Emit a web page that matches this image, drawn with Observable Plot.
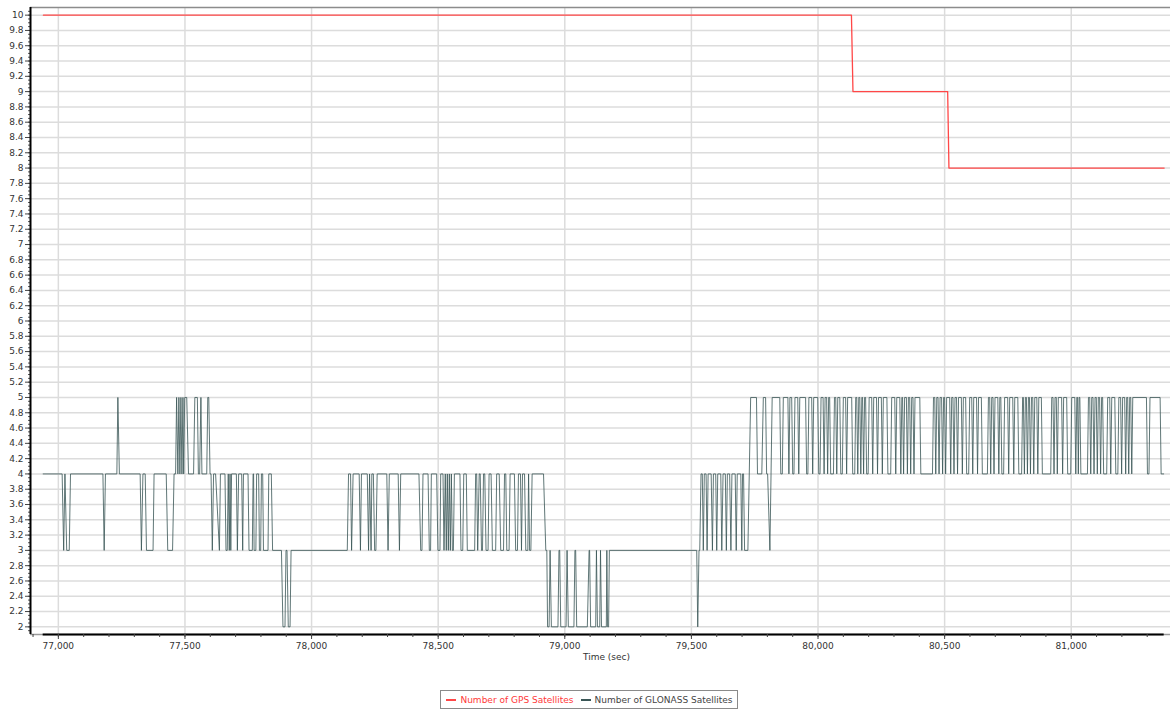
<!DOCTYPE html>
<html><head><meta charset="utf-8">
<script src="https://cdn.jsdelivr.net/npm/d3@7"></script>
<script src="https://cdn.jsdelivr.net/npm/@observablehq/plot@0.6"></script>
<style>
body{margin:0;background:#fff;font-family:"DejaVu Sans",sans-serif;}
#chart svg{display:block}
#legendWrap{display:flex;justify-content:center;margin-top:20px;position:relative;left:3px}
#legend{border:1px solid #8a8a8a;display:flex;align-items:center;height:17px;padding:0 4px 0 5px;font:9px "DejaVu Sans",sans-serif;white-space:nowrap}
.sw{display:inline-block;width:10px;height:2px;margin-right:4px}
</style></head><body>
<div id="chart"></div>
<div id="legendWrap"><div id="legend"></div></div>
<script>
// ---- data ----
const seriesNames = ["Number of GPS Satellites", "Number of GLONASS Satellites"];
const seriesColors = ["#ff4747", "#3a5757"];
const xTicks = [77000, 77500, 78000, 78500, 79000, 79500, 80000, 80500, 81000];
const yTicks = [2, 2.2, 2.4, 2.6, 2.8, 3, 3.2, 3.4, 3.6, 3.8, 4, 4.2, 4.4, 4.6, 4.8, 5, 5.2, 5.4, 5.6, 5.8, 6, 6.2, 6.4, 6.6, 6.8, 7, 7.2, 7.4, 7.6, 7.8, 8, 8.2, 8.4, 8.6, 8.8, 9, 9.2, 9.4, 9.6, 9.8, 10];
const gpsTime = [76941, 80132, 80138, 80512, 80517, 81367];
const gpsSats = [10, 10, 9, 9, 8, 8];
const glonassSeries = [
[76940,4],[77015,4],[77021,3],[77026,4],[77033,3],[77043,3],[77048,4],
[77176,4],[77181,3],[77186,4],
[77231,4],[77235,5],[77241,4],
[77323,4],[77328,3],[77334,4],[77343,4],[77348,3],[77374,3],[77378,4],
[77426,4],[77432,3],[77451,3],[77457,4],
[77463,4],[77467,5],[77472,4],[77476,5],[77480,4],[77484,5],[77488,4],[77492,5],[77495,4],[77499,5],[77507,5],[77514,4],[77534,4],[77539,5],[77549,5],[77553,4],[77558,4],[77563,5],[77567,4],[77586,4],[77590,5],[77594,5],[77599,4],
[77603,4],[77608,3],[77613,4],[77621,4],[77636,3],[77640,4],[77658,4],[77662,3],[77667,3],[77671,4],[77675,3],[77678,4],[77681,3],[77684,4],[77703,4],[77707,3],[77712,4],[77724,4],[77728,3],[77731,4],[77749,4],[77753,3],[77766,3],[77769,4],[77771,4],[77773,3],[77780,3],[77783,4],[77791,4],[77794,3],[77799,3],[77802,4],[77807,4],[77810,3],[77828,3],[77831,4],[77841,4],[77846,3],
[77881,3],[77887,2],[77895,2],[77899,3],[77903,3],[77908,2],[77915,2],[77919,3],
[78141,3],[78146,4],[78154,4],[78158,3],[78164,4],[78188,4],[78193,3],[78197,4],[78220,4],[78225,3],[78229,4],[78235,3],[78238,4],[78244,4],[78249,3],[78254,3],[78259,4],[78297,4],[78302,3],[78307,4],[78342,4],[78347,3],[78352,4],
[78424,4],[78431,3],[78436,3],[78440,4],[78460,4],[78465,3],[78470,3],[78473,4],[78494,4],[78499,3],[78507,3],[78510,4],[78519,4],[78523,3],[78528,4],[78532,3],[78536,4],[78540,3],[78544,4],[78548,3],[78552,4],[78556,3],[78560,3],[78564,4],
[78586,4],[78590,3],[78597,3],[78601,4],[78611,4],[78615,3],[78644,3],[78648,4],[78652,4],[78656,3],[78662,4],[78666,4],[78671,3],[78675,3],[78679,4],[78684,4],[78689,3],[78697,3],[78701,4],[78709,4],[78714,3],[78727,3],[78731,4],[78741,4],[78747,3],[78758,3],[78762,4],[78767,4],[78771,3],[78780,3],[78784,4],[78801,4],[78806,3],[78813,3],[78817,4],[78825,4],[78829,3],[78833,4],[78841,4],[78846,3],[78854,3],[78857,4],[78861,3],[78866,3],[78871,4],
[78916,4],[78925,3],[78929,3],[78932,2],[78938,2],[78942,3],[78947,2],[78973,2],[78977,3],[78980,3],[78984,2],[79005,2],[79009,3],[79014,2],[79036,2],[79040,3],[79043,3],[79047,2],[79089,2],[79096,3],[79098,3],[79102,2],[79122,2],[79125,3],[79129,2],[79138,2],[79141,3],[79145,2],[79164,2],[79166,3],[79169,2],[79173,2],[79176,3],
[79521,3],[79525,2],[79530,3],
[79533,3],[79538,4],[79543,4],[79547,3],[79551,4],[79558,4],[79562,3],[79566,4],[79578,4],[79583,3],[79587,4],[79596,4],[79600,3],[79604,4],[79616,4],[79620,3],[79625,4],[79634,4],[79638,3],[79642,4],[79651,4],[79656,3],[79660,4],[79673,4],[79677,3],[79681,4],[79695,4],[79699,3],[79702,4],[79706,4],[79710,3],[79723,3],[79734,5],
[79757,5],[79761,4],[79778,4],[79784,5],[79793,5],[79797,4],[79801,4],[79810,3],[79819,5],
[79849,5],[79853,4],[79859,4],[79863,5],
[79881,5],[79885,4],[79889,5],
[79896,5],[79900,4],[79905,4],[79909,5],
[79920,5],[79924,4],[79928,5],
[79951,5],[79955,4],[79960,4],[79964,5],
[79975,5],[79979,4],[79983,5],
[79999,5],[80003,4],[80008,4],[80012,5],
[80020,5],[80024,4],[80028,5],
[80034,5],[80038,4],[80042,5],
[80046,5],[80050,4],[80061,4],[80065,5],
[80070,5],[80074,4],[80078,5],
[80086,5],[80090,4],[80096,4],[80100,5],
[80109,5],[80113,4],[80117,5],
[80133,5],[80137,4],[80145,4],[80149,5],
[80153,5],[80157,4],[80161,5],
[80165,5],[80169,4],[80173,5],
[80176,5],[80180,4],[80184,5],
[80188,5],[80192,4],[80198,4],[80202,5],
[80212,5],[80216,4],[80220,5],
[80231,5],[80235,4],[80239,5],
[80250,5],[80254,4],[80258,5],
[80272,5],[80276,4],[80287,4],[80291,5],
[80303,5],[80307,4],[80311,5],
[80323,5],[80327,4],[80331,5],
[80334,5],[80338,4],[80342,5],
[80349,5],[80353,4],[80357,5],
[80362,5],[80366,4],[80370,5],
[80375,5],[80379,4],[80383,5],
[80402,5],[80406,4],[80452,4],[80456,5],
[80461,5],[80465,4],[80469,5],
[80474,5],[80478,4],[80482,5],
[80488,5],[80492,4],[80496,5],
[80500,5],[80504,4],[80508,5],
[80520,5],[80524,4],[80528,5],
[80533,5],[80537,4],[80541,5],
[80547,5],[80551,4],[80555,5],
[80566,5],[80570,4],[80574,5],
[80583,5],[80587,4],[80595,4],[80599,5],
[80607,5],[80611,4],[80615,5],
[80626,5],[80630,4],[80634,5],
[80645,5],[80649,4],[80669,4],[80673,5],
[80678,5],[80682,4],[80686,5],
[80691,5],[80695,4],[80699,5],
[80710,5],[80714,4],[80718,5],
[80722,5],[80726,4],[80733,4],[80737,5],
[80749,5],[80753,4],[80757,5],
[80769,5],[80773,4],[80777,5],
[80789,5],[80793,4],[80804,4],[80808,5],
[80811,5],[80815,4],[80819,5],
[80823,5],[80827,4],[80831,5],
[80835,5],[80839,4],[80843,5],
[80848,5],[80852,4],[80856,5],
[80864,5],[80868,4],[80872,5],
[80882,5],[80886,4],[80919,4],[80923,5],
[80928,5],[80932,4],[80936,5],
[80941,5],[80945,4],[80949,5],
[80962,5],[80966,4],[80970,5],
[80982,5],[80986,4],[80998,4],[81002,5],
[81014,5],[81018,4],[81022,5],
[81025,5],[81028,4],[81031,5],
[81034,5],[81038,4],[81064,4],[81068,5],
[81073,5],[81077,4],[81081,5],
[81086,5],[81090,4],[81094,5],
[81099,5],[81103,4],[81107,5],
[81112,5],[81116,4],[81120,5],
[81124,5],[81128,4],[81140,4],[81144,5],
[81152,5],[81156,4],[81160,5],
[81172,5],[81176,4],[81184,4],[81188,5],
[81195,5],[81199,4],[81203,5],
[81211,5],[81215,4],[81219,5],
[81223,5],[81227,4],[81231,5],
[81235,5],[81239,4],[81243,5],
[81297,5],[81301,4],[81307,4],[81311,5],
[81351,5],[81355,4],[81365,4]
];
const xLabel = "Time (sec)";

// ---- chart ----
const gps = gpsTime.map((t, i) => ({t, v: gpsSats[i]}));
const glonass = glonassSeries.map(([t, v]) => ({t, v}));
const xDomain = [76890, 81392];
const yDomain = [1.9, 10.1];
const xMinor = d3.range(76900, 81392, 100);
const yMinor = d3.range(1.95, 10.08, 0.05);
const dataStart = d3.min(glonass, d => d.t);
const dataEnd = d3.max(gps, d => d.t);

const chart = Plot.plot({
  width: 1172, height: 670,
  marginLeft: 30, marginRight: 2, marginTop: 7, marginBottom: 36,
  style: {fontFamily: "DejaVu Sans, sans-serif", fontSize: "9px", color: "#333", background: "#fff"},
  x: {domain: xDomain, label: null},
  y: {domain: yDomain, label: null},
  marks: [
    Plot.gridY(yTicks, {stroke: "#dcdcdc", strokeOpacity: 1, strokeWidth: 1.5}),
    Plot.gridX(xTicks, {stroke: "#dcdcdc", strokeOpacity: 1, strokeWidth: 1.5}),
    Plot.ruleY([yDomain[1]], {stroke: "#8c8c8c", strokeWidth: 1.5}),
    Plot.ruleY([yDomain[0]], {stroke: "#9a9a9a", strokeWidth: 1.5}),
    Plot.ruleY([yDomain[0]], {x1: dataStart, x2: dataEnd, stroke: "#000", strokeWidth: 2}),
    Plot.line(glonass, {x: "t", y: "v", stroke: seriesColors[1], strokeWidth: 0.9, strokeOpacity: 0.9}),
    Plot.line(gps, {x: "t", y: "v", stroke: seriesColors[0], strokeWidth: 1.3}),
    Plot.axisY(yMinor, {tickSize: 2, tickFormat: () => "", stroke: "#555"}),
    Plot.axisY(yTicks, {tickSize: 5, tickPadding: 2, tickFormat: d => String(d), stroke: "#444", fill: "#333"}),
    Plot.axisX(xMinor, {tickSize: 3, tickFormat: () => "", stroke: "#444"}),
    Plot.axisX(xTicks, {tickSize: 5, tickPadding: 3, tickFormat: d3.format(","), stroke: "#444", fill: "#333", label: null}),
    Plot.ruleX([xDomain[0]], {stroke: "#000", strokeWidth: 2}),
    Plot.text([xLabel], {frameAnchor: "bottom", dy: 23, dx: 6, text: d => d, fill: "#333", fontSize: 9, lineAnchor: "middle"})
  ]
});
document.getElementById("chart").append(chart);

const legend = document.getElementById("legend");
seriesNames.forEach((name, i) => {
  const sw = document.createElement("span");
  sw.className = "sw";
  sw.style.background = seriesColors[i];
  if (i > 0) sw.style.marginLeft = "7px";
  const tx = document.createElement("span");
  tx.textContent = name;
  tx.style.color = i === 0 ? "#ff3838" : "#444";
  legend.append(sw, tx);
});
</script>
</body></html>
